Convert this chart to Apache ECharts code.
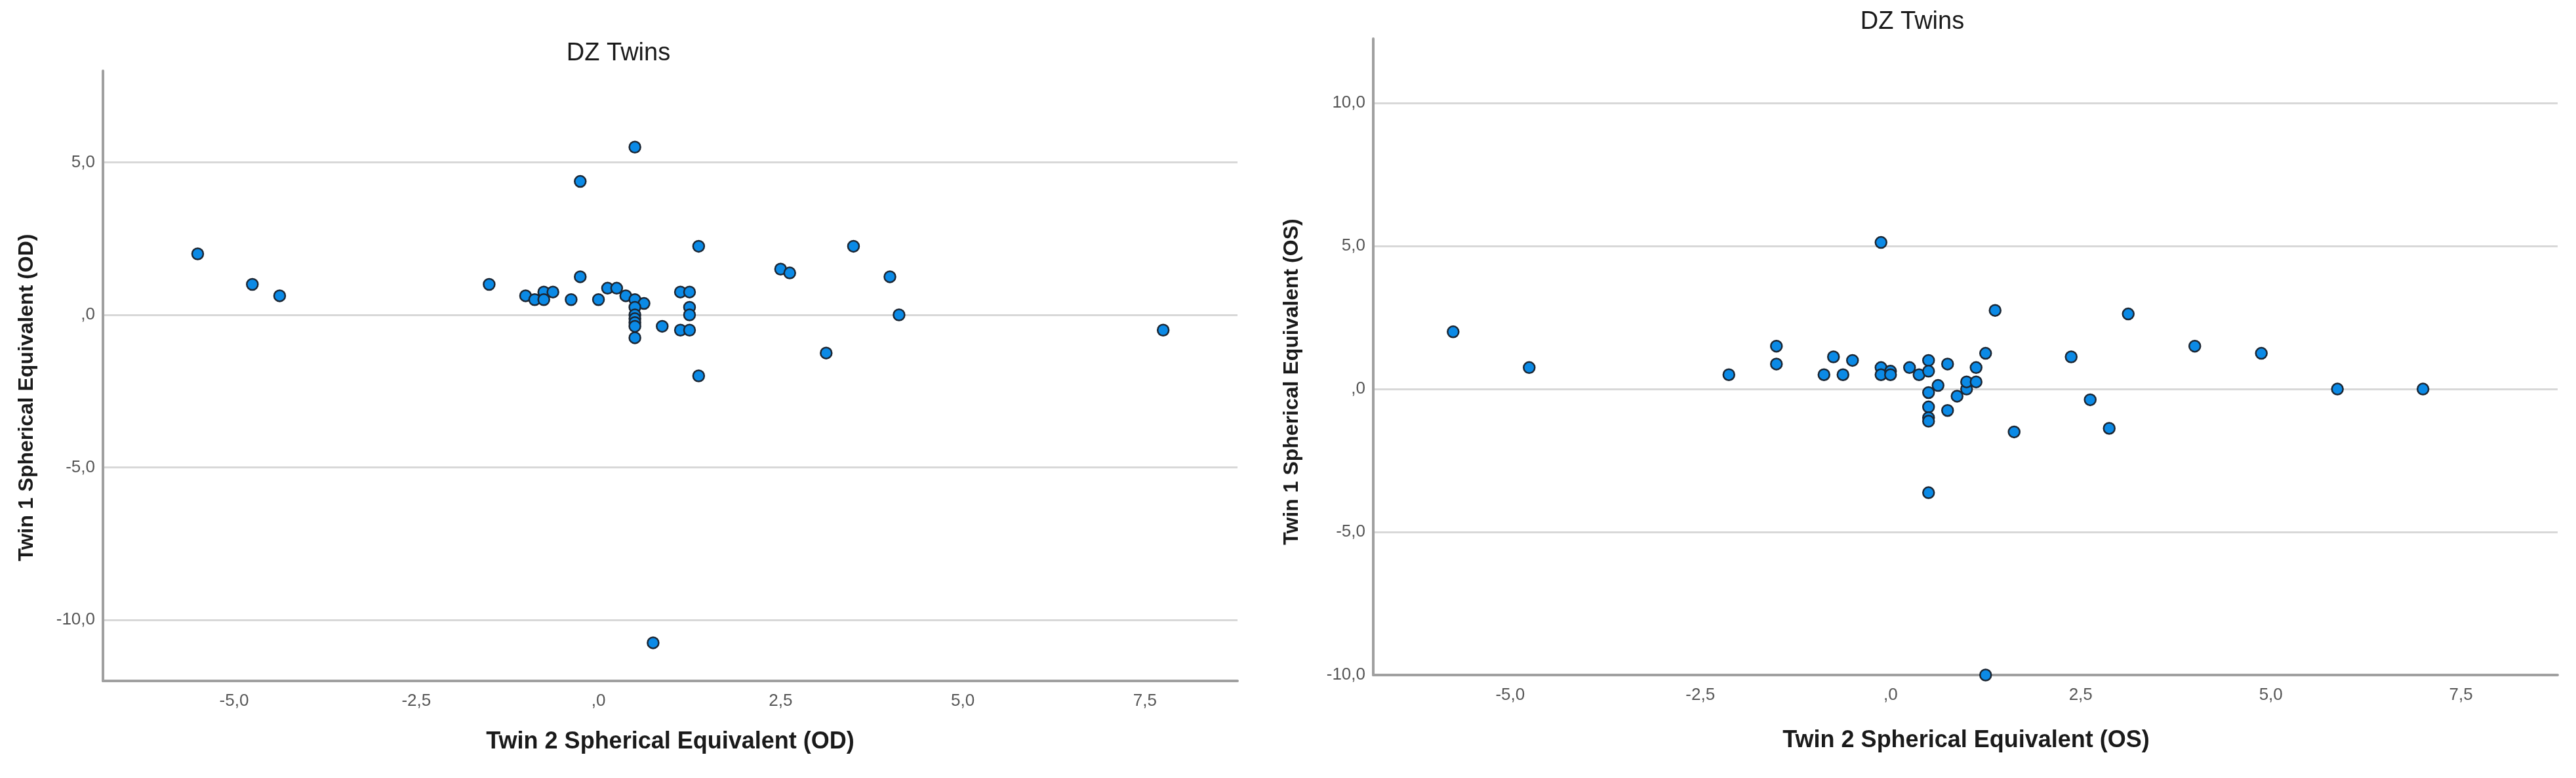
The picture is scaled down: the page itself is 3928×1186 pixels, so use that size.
<!DOCTYPE html>
<html>
<head>
<meta charset="utf-8">
<title>DZ Twins</title>
<script src="https://cdn.jsdelivr.net/npm/echarts@6/dist/echarts.min.js"></script>
<style>
    html, body { margin: 0; padding: 0; background: #fff; }
    #chart { width: 3928px; height: 1186px; }
</style>
</head>
<body>
<div id="chart"></div>
<script>
// tick labels
var xTicks = [-5, -2.5, 0, 2.5, 5, 7.5];
var odYTicks = [-10, -5, 0, 5];
var osYTicks = [-10, -5, 0, 5, 10];

// OD: twin 2 (x) vs twin 1 (y)
var odTwin2 = [-5.5, -4.75, -4.375, -1.5, -1.0, -0.875, -0.75, -0.75, -0.625, -0.375,
    -0.25, -0.25, 0, 0.125, 0.25, 0.375, 0.5, 0.625, 0.5, 0.5,
    0.5, 0.5, 0.5, 0.5, 0.5, 0.875, 1.125, 1.25, 1.25, 1.25,
    1.125, 1.25, 1.375, 1.375, 2.5, 2.625, 3.5, 4.0, 4.125, 3.125,
    7.75, 0.75];
var odTwin1 = [2.0, 1.0, 0.625, 1.0, 0.625, 0.5, 0.75, 0.5, 0.75, 0.5,
    1.25, 4.375, 0.5, 0.875, 0.875, 0.625, 0.5, 0.375, 5.5, 0.25,
    0, -0.125, -0.25, -0.375, -0.75, -0.375, 0.75, 0.75, 0.25, 0,
    -0.5, -0.5, 2.25, -2.0, 1.5, 1.375, 2.25, 1.25, 0, -1.25,
    -0.5, -10.75];

// OS: twin 2 (x) vs twin 1 (y)
var osTwin2 = [-5.75, -4.75, -2.125, -1.5, -1.5, -0.875, -0.75, -0.625, -0.5, -0.125,
    -0.125, -0.125, 0, 0, 0.25, 0.375, 0.5, 0.5, 0.625, 0.5,
    0.5, 0.5, 0.5, 0.5, 0.75, 0.75, 0.875, 1.0, 1.0, 1.125,
    1.125, 1.25, 1.375, 1.625, 2.375, 2.625, 2.875, 3.125, 4.0, 4.875,
    5.875, 7.0, 1.25];
var osTwin1 = [2.0, 0.75, 0.5, 1.5, 0.875, 0.5, 1.125, 0.5, 1.0, 0.75,
    0.5, 5.125, 0.625, 0.5, 0.75, 0.5, 1.0, 0.625, 0.125, -0.125,
    -0.625, -1.0, -1.125, -3.625, 0.875, -0.75, -0.25, 0, 0.25, 0.25,
    0.75, 1.25, 2.75, -1.5, 1.125, -0.375, -1.375, 2.625, 1.5, 1.25,
    0, 0, -10.0];

var labelFont = '"Liberation Sans", Arial, sans-serif';

// SPSS 风格刻度: ",0" / "5,0" / "-2,5"
function fmt(v) {
    if (v === 0) {
        return ',0';
    }
    return v.toFixed(1).replace('.', ',');
}

function pairs(xs, ys) {
    return xs.map(function (x, i) { return [x, ys[i]]; });
}

function makeXAxis(gridIndex) {
    return {
        type: 'value',
        gridIndex: gridIndex,
        min: -6.8,
        max: 8.77,
        axisLine: { show: true, onZero: false, lineStyle: { color: '#a0a0a0', width: 4 } },
        axisTick: { show: false, customValues: xTicks },
        axisLabel: {
            customValues: xTicks,
            formatter: fmt,
            color: '#555',
            fontSize: 26,
            fontFamily: labelFont,
            margin: 18
        },
        splitLine: { show: false }
    };
}

function makeYAxis(gridIndex, min, max, ticks) {
    return {
        type: 'value',
        gridIndex: gridIndex,
        min: min,
        max: max,
        axisLine: { show: true, onZero: false, lineStyle: { color: '#a0a0a0', width: 4 } },
        axisTick: { show: false, customValues: ticks },
        axisLabel: {
            customValues: ticks,
            formatter: fmt,
            color: '#555',
            fontSize: 26,
            fontFamily: labelFont,
            margin: 12
        },
        splitLine: { show: true, lineStyle: { color: '#d8d8d8', width: 3 } }
    };
}

function makeSeries(gridIndex, data) {
    return {
        type: 'scatter',
        xAxisIndex: gridIndex,
        yAxisIndex: gridIndex,
        data: data,
        symbol: 'circle',
        symbolSize: 17,
        clip: false,
        itemStyle: { color: '#0b8ae6', borderColor: '#1b2633', borderWidth: 2.5, opacity: 1 }
    };
}

function text(x, y, str, size, weight, rotation) {
    return {
        type: 'text',
        x: x,
        y: y,
        rotation: rotation || 0,
        style: {
            text: str,
            fontSize: size,
            fontWeight: weight,
            fontFamily: labelFont,
            fill: '#1a1a1a',
            align: 'center',
            verticalAlign: 'middle'
        }
    };
}

var chart = echarts.init(document.getElementById('chart'));
chart.setOption({
    animation: false,
    backgroundColor: '#fff',
    grid: [
        { left: 157, top: 108, width: 1730, height: 930 },
        { left: 2094, top: 59, width: 1806, height: 970 }
    ],
    xAxis: [makeXAxis(0), makeXAxis(1)],
    yAxis: [makeYAxis(0, -12, 8, odYTicks), makeYAxis(1, -10, 12.25, osYTicks)],
    series: [
        makeSeries(0, pairs(odTwin2, odTwin1)),
        makeSeries(1, pairs(osTwin2, osTwin1))
    ],
    graphic: [
        text(943, 82, 'DZ Twins', 38, 'normal'),
        text(2916, 34, 'DZ Twins', 38, 'normal'),
        text(1022, 1131, 'Twin 2 Spherical Equivalent (OD)', 36, 'bold'),
        text(2998, 1129, 'Twin 2 Spherical Equivalent (OS)', 36, 'bold'),
        text(41, 606, 'Twin 1 Spherical Equivalent (OD)', 32, 'bold', Math.PI / 2),
        text(1970, 582, 'Twin 1 Spherical Equivalent (OS)', 32, 'bold', Math.PI / 2)
    ]
});
</script>
</body>
</html>
